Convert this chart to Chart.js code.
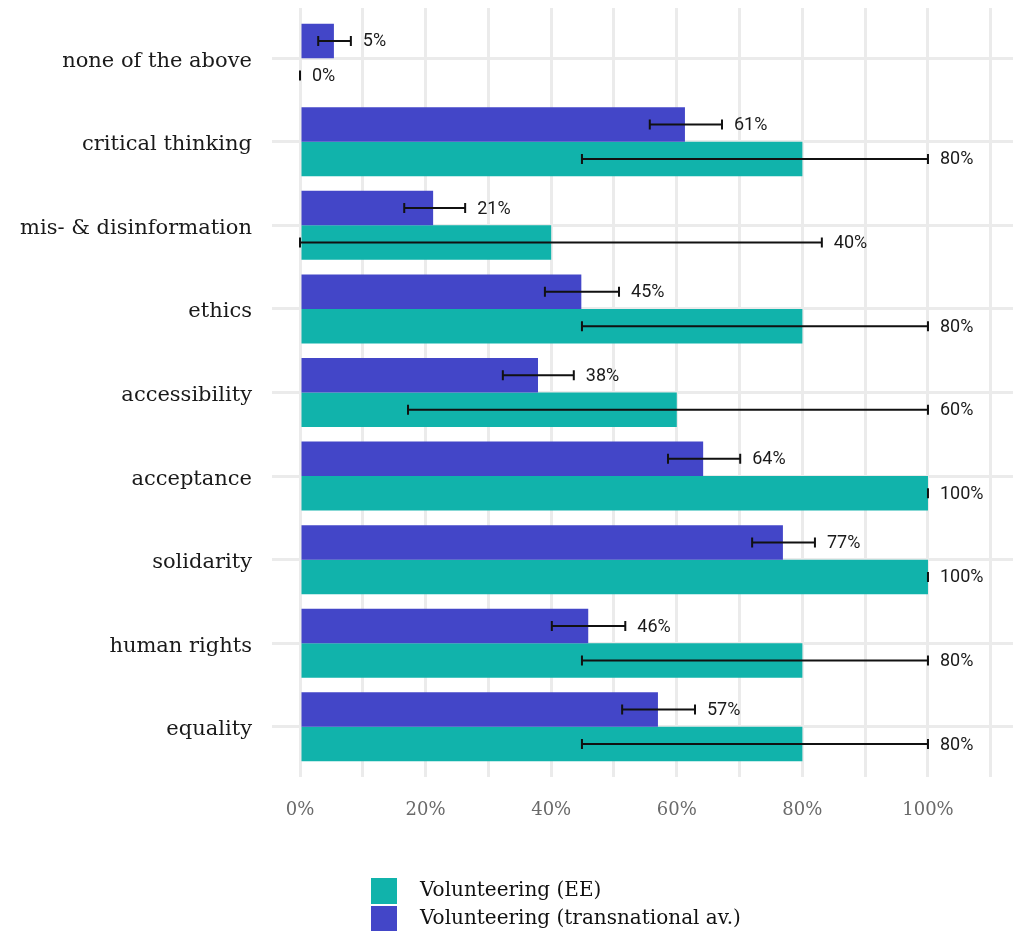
<!DOCTYPE html>
<html>
<head>
<meta charset="utf-8">
<script src="https://cdn.jsdelivr.net/npm/chart.js@4.4.1/dist/chart.umd.min.js"></script>
<style>
  html, body { margin: 0; padding: 0; background: #fff; }
  #contenedor { width: 1013px; height: 931px; position: relative; }
</style>
</head>
<body>
<div id="contenedor"><canvas id="grafico"></canvas></div>
<script>
/* ===================== DATOS ===================== */
const categorias = [
  "none of the above",
  "critical thinking",
  "mis- & disinformation",
  "ethics",
  "accessibility",
  "acceptance",
  "solidarity",
  "human rights",
  "equality",
];

// Volunteering (transnational av.)
const transValores = [5.4, 61.3, 21.2, 44.8, 37.9, 64.2, 76.9, 45.9, 57.0];
const transBajo = [2.9, 55.7, 16.6, 39.0, 32.3, 58.6, 72.0, 40.1, 51.3];
const transAlto = [8.1, 67.2, 26.3, 50.8, 43.6, 70.1, 82.0, 51.8, 62.9];

// Volunteering (EE)
const eeValores = [0, 80, 40, 80, 60, 100, 100, 80, 80];
const eeBajo = [0, 44.9, 0, 44.9, 17.2, 100, 100, 44.9, 44.9];
const eeAlto = [0, 100, 83.1, 100, 100, 100, 100, 100, 100];

const ticksX = [0, 20, 40, 60, 80, 100];
const nombresSeries = ["Volunteering (EE)", "Volunteering (transnational av.)"];

const colorTrans = "#4346C8";
const colorEE = "#11B3AB";
const fuenteSerif = "'DejaVu Serif', serif";

/* ===================== BARRAS DE ERROR + ETIQUETAS ===================== */
const barrasError = {
  id: "barrasError",
  afterDatasetsDraw(chart) {
    const ctx = chart.ctx;
    const escalaX = chart.scales.x;
    chart.data.datasets.forEach((ds, i) => {
      const meta = chart.getDatasetMeta(i);
      meta.data.forEach((barra, j) => {
        const x1 = escalaX.getPixelForValue(ds.bajo[j]);
        const x2 = escalaX.getPixelForValue(ds.alto[j]);
        const y = barra.y;
        ctx.save();
        ctx.strokeStyle = "#111";
        ctx.lineWidth = 2;
        ctx.beginPath();
        ctx.moveTo(x1, y);
        ctx.lineTo(x2, y);
        ctx.moveTo(x1, y - 5);
        ctx.lineTo(x1, y + 5);
        ctx.moveTo(x2, y - 5);
        ctx.lineTo(x2, y + 5);
        ctx.stroke();
        ctx.fillStyle = "#1a1a1a";
        ctx.font = "18px Roboto";
        ctx.textBaseline = "middle";
        ctx.textAlign = "left";
        ctx.fillText(`${Math.round(ds.data[j].x)}%`, x2 + 12, y + 1);
        ctx.restore();
      });
    });
  },
};

/* ===================== LEYENDA ===================== */
const leyendaPropia = {
  id: "leyendaPropia",
  afterDraw(chart) {
    const ctx = chart.ctx;
    const arriba = chart.chartArea.bottom + 101;
    const items = [
      { texto: nombresSeries[0], color: colorEE },
      { texto: nombresSeries[1], color: colorTrans },
    ];
    items.forEach((it, i) => {
      const y = arriba + i * 28;
      ctx.save();
      ctx.fillStyle = it.color;
      ctx.fillRect(371, y, 26, 26);
      ctx.fillStyle = "#111";
      ctx.font = `20px ${fuenteSerif}`;
      ctx.textBaseline = "middle";
      ctx.fillText(it.texto, 420, y + 13);
      ctx.restore();
    });
  },
};

/* ===================== GRÁFICO ===================== */
const aPuntos = (valores) => valores.map((v, i) => ({ x: v, y: i }));

new Chart(document.getElementById("grafico"), {
  type: "bar",
  data: {
    datasets: [
      {
        label: nombresSeries[1],
        data: aPuntos(transValores),
        bajo: transBajo,
        alto: transAlto,
        backgroundColor: colorTrans,
      },
      {
        label: nombresSeries[0],
        data: aPuntos(eeValores),
        bajo: eeBajo,
        alto: eeAlto,
        backgroundColor: colorEE,
      },
    ],
  },
  plugins: [barrasError, leyendaPropia],
  options: {
    indexAxis: "y",
    responsive: true,
    maintainAspectRatio: false,
    animation: false,
    barPercentage: 1,
    categoryPercentage: 0.825,
    layout: { padding: { top: 8, right: 0, left: 0, bottom: 94 } },
    plugins: {
      legend: { display: false },
      tooltip: { enabled: false },
    },
    scales: {
      x: {
        type: "linear",
        min: -4.459,
        max: 113.54,
        afterFit: (s) => {
          s.height = 60;
          s.paddingLeft = 0;
          s.paddingRight = 0;
        },
        ticks: {
          stepSize: 10,
          includeBounds: false,
          autoSkip: false,
          maxRotation: 0,
          padding: 23,
          color: "#6a6a6a",
          font: { family: "DejaVu Serif", size: 18 },
          callback: (v) => (ticksX.includes(v) ? `${v}%` : ""),
        },
        grid: { color: "#ebebeb", lineWidth: 3, drawTicks: false },
        border: { display: false },
      },
      y: {
        type: "linear",
        reverse: true,
        offset: false,
        min: -0.6,
        max: 8.6,
        afterFit: (s) => {
          s.width = 272;
          s.paddingTop = 0;
          s.paddingBottom = 0;
        },
        ticks: {
          stepSize: 1,
          includeBounds: false,
          autoSkip: false,
          padding: 20,
          labelOffset: 3,
          color: "#1a1a1a",
          font: { family: "DejaVu Serif", size: 21 },
          callback: (v) => categorias[v] ?? "",
        },
        grid: { offset: false, color: "#ebebeb", lineWidth: 3, drawTicks: false },
        border: { display: false },
      },
    },
  },
});
</script>
</body>
</html>
